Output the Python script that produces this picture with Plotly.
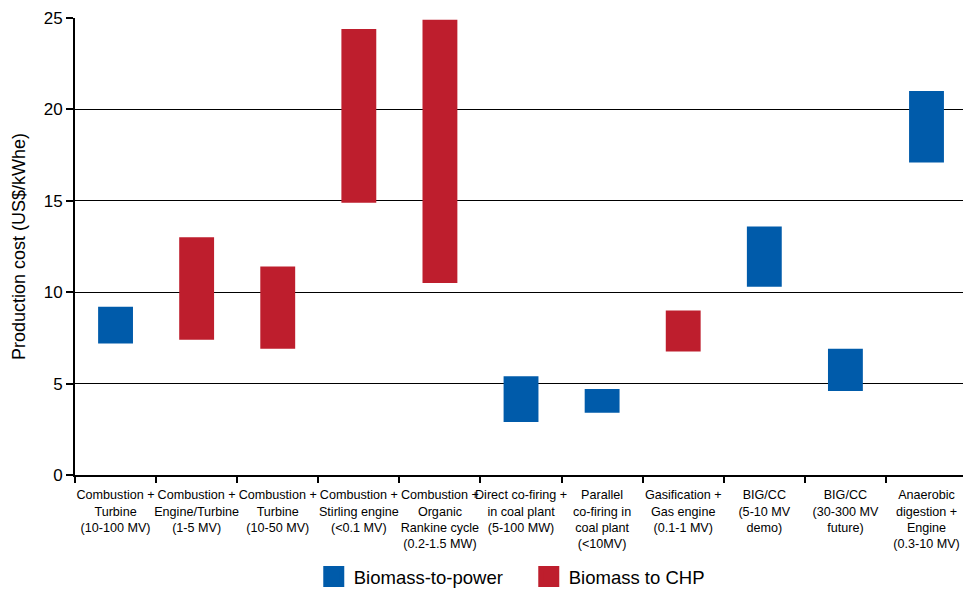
import plotly.graph_objects as go

categories = [
    "Combustion +<br>Turbine<br>(10-100 MV)",
    "Combustion +<br>Engine/Turbine<br>(1-5 MV)",
    "Combustion +<br>Turbine<br>(10-50 MV)",
    "Combustion +<br>Stirling engine<br>(<0.1 MV)",
    "Combustion +<br>Organic<br>Rankine cycle<br>(0.2-1.5 MW)",
    "Direct co-firing +<br>in coal plant<br>(5-100 MW)",
    "Parallel<br>co-firing in<br>coal plant<br>(<10MV)",
    "Gasification +<br>Gas engine<br>(0.1-1 MV)",
    "BIG/CC<br>(5-10 MV<br>demo)",
    "BIG/CC<br>(30-300 MV<br>future)",
    "Anaerobic<br>digestion +<br>Engine<br>(0.3-10 MV)",
]
cost_low = [7.2, 7.4, 6.9, 14.9, 10.5, 2.9, 3.4, 6.75, 10.3, 4.6, 17.1]
cost_high = [9.2, 13.0, 11.4, 24.4, 24.9, 5.4, 4.7, 9.0, 13.6, 6.9, 21.0]
series = ["power", "chp", "chp", "chp", "chp", "power", "power", "chp", "power", "power", "power"]

series_names = {"power": "Biomass-to-power", "chp": "Biomass to CHP"}
series_colors = {"power": "#005BAA", "chp": "#BE1E2D"}

fig = go.Figure()
for key in ["power", "chp"]:
    idx = [i for i, s in enumerate(series) if s == key]
    fig.add_trace(go.Bar(
        x=[categories[i] for i in idx],
        y=[cost_high[i] - cost_low[i] for i in idx],
        base=[cost_low[i] for i in idx],
        width=0.43,
        marker=dict(color=series_colors[key], line=dict(width=0)),
        name=series_names[key],
        legendgroup=key,
        showlegend=False,
    ))
    fig.add_trace(go.Scatter(
        x=[None], y=[None], mode="markers",
        marker=dict(symbol="square", size=16, color=series_colors[key],
                    line=dict(color=series_colors[key], width=5)),
        name=series_names[key],
        legendgroup=key,
        showlegend=True,
    ))

fig.update_layout(
    autosize=True,
    margin=dict(l=75, r=0, t=18, b=120),
    paper_bgcolor="white", plot_bgcolor="white",
    barmode="overlay",
    font=dict(family="Liberation Sans, Arial, sans-serif", color="black"),
    showlegend=True,
    legend=dict(orientation="h", x=0.511, xanchor="center", y=-0.222, yanchor="middle",
                font=dict(size=18.5), itemsizing="trace", traceorder="normal",
                entrywidth=170, entrywidthmode="pixels"),
    xaxis=dict(
        type="category", categoryorder="array", categoryarray=categories,
        range=[-0.5, 10.45], automargin=False,
        showline=True, linecolor="black", linewidth=2,
        ticks="outside", tickson="boundaries", ticklen=6, tickcolor="black", tickwidth=1.5,
        tickfont=dict(size=12.6), tickangle=0, ticklabelstandoff=7,
        showgrid=False, zeroline=False,
    ),
    yaxis=dict(
        range=[0, 25], tickvals=[0, 5, 10, 15, 20, 25], automargin=False,
        showline=True, linecolor="black", linewidth=2,
        ticks="outside", ticklen=7, tickcolor="black", tickwidth=1.5,
        tickfont=dict(size=17),
        showgrid=True, gridcolor="black", gridwidth=1.2,
        zeroline=False,
        title=dict(text="Production cost (US$/kWhe)", font=dict(size=18), standoff=13),
    ),
)

fig.write_html("out.html",
               config={"displayModeBar": False, "responsive": True},
               default_width="100vw", default_height="100vh",
               post_script="document.body.style.margin='0';document.body.style.overflow='hidden';"
                           "window.dispatchEvent(new Event('resize'));")
